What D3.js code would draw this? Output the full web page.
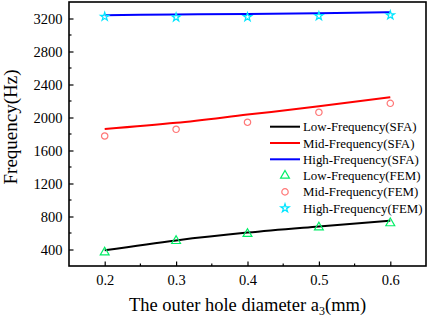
<!DOCTYPE html>
<html><head><meta charset="utf-8">
<script src="https://cdn.jsdelivr.net/npm/d3@7"></script>
<style>body{margin:0;background:#fff}svg{display:block}text{font-family:"Liberation Serif","Times New Roman",serif;fill:#000}</style>
</head><body>
<svg id="c" width="429" height="319"></svg>
<script>
const xValues = [0.2, 0.3, 0.4, 0.5, 0.6];
const lowSFA  = [390, 510, 605, 680, 750];
const midSFA  = [1860, 1935, 2035, 2135, 2245];
const highSFA = [3240, 3248, 3256, 3265, 3275];
const lowFEM  = [372, 510, 596, 674, 725];
const midFEM  = [1776, 1857, 1942, 2063, 2172];
const highFEM = [3222, 3215, 3218, 3230, 3240];
const xTicks = [0.2, 0.3, 0.4, 0.5, 0.6];
const yTicks = [400, 800, 1200, 1600, 2000, 2400, 2800, 3200];
const legendLabels = ["Low-Frequency(SFA)","Mid-Frequency(SFA)","High-Frequency(SFA)","Low-Frequency(FEM)","Mid-Frequency(FEM)","High-Frequency(FEM)"];

const svg = d3.select("#c");
const L = 69, R = 426, T = 2, B = 266;
const x = d3.scaleLinear().domain([0.15, 0.65]).range([L, R]);
const y = d3.scaleLinear().domain([200, 3400]).range([B, T]);

// minor ticks
const xMinor = d3.range(0.25, 0.65, 0.1);
const yMinor = d3.range(600, 3400, 400);
const g = svg.append("g");
g.selectAll(".xm").data(xMinor).join("line").attr("x1",d=>x(d)).attr("x2",d=>x(d)).attr("y1",B).attr("y2",B-2.5).attr("stroke","#000").attr("stroke-width",1.2);
g.selectAll(".ym").data(yMinor).join("line").attr("y1",d=>y(d)).attr("y2",d=>y(d)).attr("x1",L).attr("x2",L+2.5).attr("stroke","#000").attr("stroke-width",1.2);

// axes
const xAxis = d3.axisBottom(x).tickValues(xTicks).tickSizeInner(-4.5).tickSizeOuter(0).tickPadding(10).tickFormat(d3.format(".1f"));
const yAxis = d3.axisLeft(y).tickValues(yTicks).tickSizeInner(-4.5).tickSizeOuter(0).tickPadding(10).tickFormat(d3.format("d"));
const gx = svg.append("g").attr("transform",`translate(0,${B})`).call(xAxis);
const gy = svg.append("g").attr("transform",`translate(${L},0)`).call(yAxis);
[gx,gy].forEach(a=>{a.select(".domain").remove();a.selectAll(".tick line").attr("stroke","#000").attr("stroke-width",1.2);a.selectAll("text").attr("font-family","Liberation Serif").attr("font-size",14.5).attr("fill","#000");});
gx.selectAll("text").attr("dy","0.71em").attr("y",9);
gy.selectAll("text").attr("x",-6.5);

// frame
svg.append("rect").attr("x",L).attr("y",T).attr("width",R-L).attr("height",B-T).attr("fill","none").attr("stroke","#000").attr("stroke-width",1.6);

// lines
const line = (arr)=>d3.line().x((d,i)=>x(xValues[i])).y(d=>y(d)).curve(d3.curveMonotoneX)(arr);
const lineSeries = [[lowSFA,"#000000"],[midSFA,"#ff0000"],[highSFA,"#0000ff"]];
svg.selectAll(".ln").data(lineSeries).join("path").attr("d",d=>line(d[0])).attr("fill","none").attr("stroke",d=>d[1]).attr("stroke-width",2);

// markers
const tri = d3.symbol().type(d3.symbolTriangle).size(34)();
const circ = d3.symbol().type(d3.symbolCircle).size(32)();
const star = d3.symbol().type(d3.symbolStar).size(22)();
const markerSeries = [[lowFEM, tri, "#00ee66"],[midFEM, circ, "#ff7777"],[highFEM, star, "#00e5ff"]];
markerSeries.forEach(([arr, p, c])=>{
  svg.append("g").selectAll("path").data(arr).join("path").attr("d",p)
    .attr("transform",(d,i)=>`translate(${x(xValues[i])},${y(d)+ (p===tri?0.5:0)})`)
    .attr("fill","none").attr("stroke",c).attr("stroke-width",1.2);
});

// legend
const lg = svg.append("g");
const rowY = d3.range(6).map(i=>126.7 + i*16.3);
lineSeries.forEach((s,i)=>{
  lg.append("line").attr("x1",270).attr("x2",300).attr("y1",rowY[i]).attr("y2",rowY[i]).attr("stroke",s[1]).attr("stroke-width",2);
});
markerSeries.forEach((s,i)=>{
  lg.append("path").attr("d",s[1]).attr("transform",`translate(285,${rowY[i+3]})`).attr("fill","none").attr("stroke",s[2]).attr("stroke-width",1.2);
});
lg.selectAll("text").data(legendLabels).join("text").attr("x",303).attr("y",(d,i)=>rowY[i]).attr("dy","0.35em").attr("font-size",12.9).text(d=>d);

// axis titles
const xt = svg.append("text").attr("x",(L+R)/2).attr("y",311).attr("text-anchor","middle").attr("font-size",18.5);
xt.append("tspan").text("The outer hole diameter a");
xt.append("tspan").attr("font-size",12).attr("dy",4).text("3");
xt.append("tspan").attr("dy",-4).text("(mm)");
svg.append("text").attr("transform","translate(17,127) rotate(-90)").attr("text-anchor","middle").attr("font-size",19).text("Frequency(Hz)");
</script>
</body></html>
